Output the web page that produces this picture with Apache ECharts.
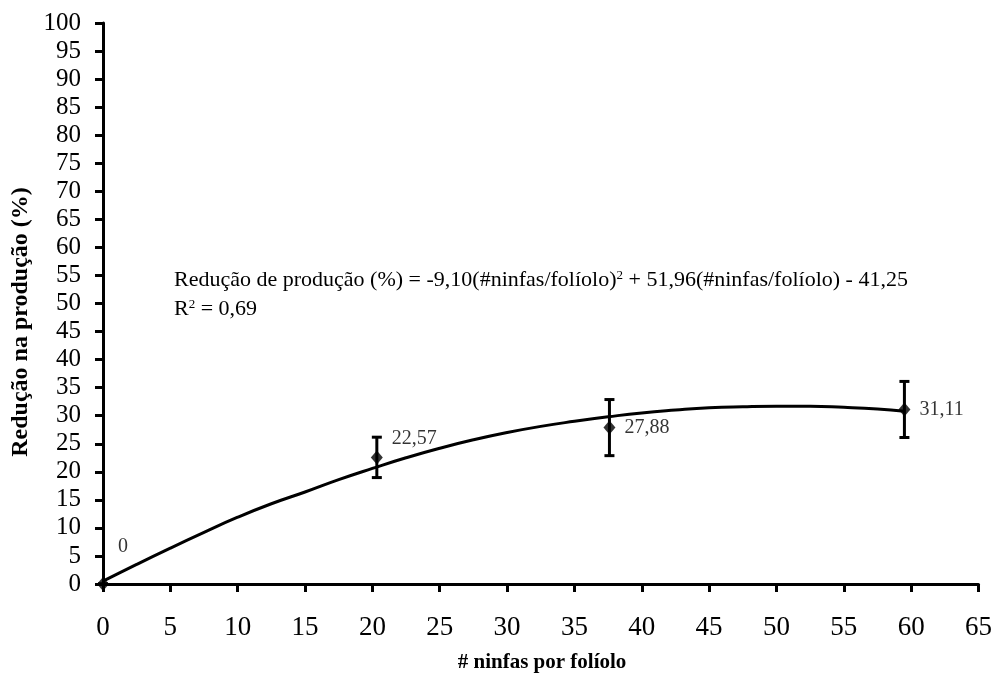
<!DOCTYPE html>
<html>
<head>
<meta charset="utf-8">
<script src="https://cdn.jsdelivr.net/npm/echarts@6/dist/echarts.min.js"></script>
<style>
html, body { margin: 0; padding: 0; background: #fff; }
#chart { width: 995px; height: 675px; }
</style>
</head>
<body>
<div id="chart"></div>
<script>
// pontos observados
var ninfas = [0, 20.33, 37.6, 59.5];
var reducao = [0, 22.57, 27.88, 31.11];
var erro = [0, 3.6, 5.0, 5.0];

// curva ajustada
var curvaX = [0, 2.5, 5, 7.5, 10, 12.5, 15, 17.5, 20, 22.5, 25, 27.5, 30, 32.5, 35, 37.5, 40, 42.5, 45, 47.5, 50, 52.5, 55, 57.5, 59.5];
var curvaY = [0.5, 3.5, 6.4, 9.2, 11.9, 14.3, 16.4, 18.6, 20.6, 22.5, 24.2, 25.7, 27.0, 28.1, 29.0, 29.8, 30.5, 31.0, 31.4, 31.6, 31.7, 31.7, 31.5, 31.2, 30.8];

var xTicks = { min: 0, max: 65, interval: 5 };
var yTicks = { min: 0, max: 100, interval: 5 };

var serif = "'Liberation Serif', 'Times New Roman', serif";

var curva = curvaX.map(function (x, i) { return [x, curvaY[i]]; });
var pontos = ninfas.map(function (x, i) { return [x, reducao[i]]; });
var barras = ninfas.map(function (x, i) { return [x, reducao[i] - erro[i], reducao[i] + erro[i]]; });
var offsets = [[0, -37], [0, -19], [0, 0], [0, 0]];

var supStyle = { fontSize: 13, fontFamily: serif, verticalAlign: 'top', padding: [0, 0, 9, 0] };

var mychart = echarts.init(document.getElementById('chart'));
var option = {
    backgroundColor: '#fff',
    animation: false,
    grid: { left: 103, right: 15, top: 23, bottom: 91 },
    xAxis: {
        type: 'value',
        min: xTicks.min, max: xTicks.max, interval: xTicks.interval,
        axisLine: { show: true, lineStyle: { color: '#000', width: 3 } },
        axisTick: { show: true, length: 8, lineStyle: { color: '#000', width: 3 } },
        axisLabel: { color: '#000', fontFamily: serif, fontSize: 27, margin: 30 },
        splitLine: { show: false }
    },
    yAxis: {
        type: 'value',
        min: yTicks.min, max: yTicks.max, interval: yTicks.interval,
        axisLine: { show: true, lineStyle: { color: '#000', width: 3 } },
        axisTick: { show: true, length: 8, lineStyle: { color: '#000', width: 3 } },
        axisLabel: { color: '#000', fontFamily: serif, fontSize: 25, margin: 22 },
        splitLine: { show: false }
    },
    graphic: [
        {
            type: 'text', left: 174, top: 269,
            style: {
                text: 'Redução de produção (%) = -9,10(#ninfas/folíolo){sup|2} + 51,96(#ninfas/folíolo) - 41,25',
                font: '22px ' + serif, fill: '#000',
                rich: { sup: supStyle }
            }
        },
        {
            type: 'text', left: 174, top: 298,
            style: {
                text: 'R{sup|2} = 0,69',
                font: '22px ' + serif, fill: '#000',
                rich: { sup: supStyle }
            }
        },
        {
            type: 'text', x: 21, y: 322, rotation: Math.PI / 2,
            style: {
                text: 'Redução na produção (%)',
                font: 'bold 24px ' + serif, fill: '#000',
                align: 'center', verticalAlign: 'middle'
            }
        },
        {
            type: 'text', x: 542, y: 663,
            style: {
                text: '# ninfas por folíolo',
                font: 'bold 21px ' + serif, fill: '#000',
                align: 'center', verticalAlign: 'middle'
            }
        }
    ],
    series: [
        {
            type: 'line',
            data: curva,
            smooth: true,
            showSymbol: false,
            lineStyle: { color: '#000', width: 3 },
            z: 2
        },
        {
            type: 'custom',
            data: barras,
            renderItem: function (params, api) {
                var x = api.value(0);
                var lo = api.coord([x, api.value(1)]);
                var hi = api.coord([x, api.value(2)]);
                var w = 5;
                var st = { stroke: '#000', lineWidth: 3 };
                return {
                    type: 'group',
                    children: [
                        { type: 'line', shape: { x1: lo[0], y1: lo[1], x2: hi[0], y2: hi[1] }, style: st },
                        { type: 'line', shape: { x1: lo[0] - w, y1: lo[1], x2: lo[0] + w, y2: lo[1] }, style: st },
                        { type: 'line', shape: { x1: hi[0] - w, y1: hi[1], x2: hi[0] + w, y2: hi[1] }, style: st }
                    ]
                };
            },
            z: 3
        },
        {
            type: 'scatter',
            data: pontos.map(function (p, i) {
                return { value: p, label: { offset: offsets[i] } };
            }),
            symbol: 'diamond',
            symbolSize: [12, 14],
            itemStyle: { color: '#000' },
            label: {
                show: true,
                position: 'right',
                distance: 9,
                color: '#000',
                fontFamily: serif,
                fontSize: 20,
                formatter: function (p) { return String(p.value[1]).replace('.', ','); }
            },
            z: 4
        }
    ]
};
mychart.setOption(option);
window.addEventListener('resize', function () {
    mychart.resize();
});
</script>
</body>
</html>
